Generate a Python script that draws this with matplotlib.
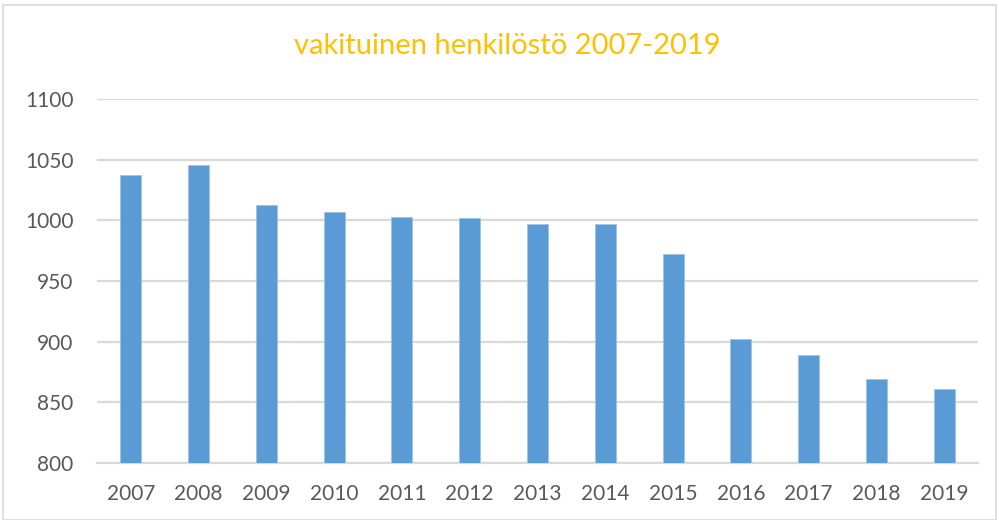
import matplotlib
matplotlib.use("Agg")
import matplotlib.pyplot as plt
from matplotlib.patches import Rectangle

years = ['2007', '2008', '2009', '2010', '2011', '2012', '2013',
         '2014', '2015', '2016', '2017', '2018', '2019']
staff = [1037, 1046, 1013, 1007, 1003, 1002, 997, 997, 972, 902, 889, 869, 861]
yticks = [800, 850, 900, 950, 1000, 1050, 1100]

plt.rcParams['font.family'] = ['Lato', 'DejaVu Sans']

fig = plt.figure(figsize=(9.99, 5.2), dpi=100)
ax = fig.add_axes([0.097, 0.1096, 0.882, 0.7])

# outer chart border
fig.patches.append(Rectangle((0.003, 0.0), 0.994, 0.99, transform=fig.transFigure,
                             fill=False, edgecolor='#D9D9D9', linewidth=1.2))

x = range(len(years))
ax.bar(x, staff, width=0.31, color='#5B9BD5', edgecolor='#9DC3E6', linewidth=0.6, zorder=3)

ax.set_ylim(800, 1100)
ax.set_xlim(-0.5, len(years) - 0.5)
ax.set_yticks(yticks)
ax.set_xticks(list(x))
ax.set_xticklabels(years)
ax.grid(axis='y', color='#D9D9D9', linewidth=1.6, zorder=0)
for s in ['top', 'right', 'left']:
    ax.spines[s].set_visible(False)
ax.spines['bottom'].set_color('#D9D9D9')
ax.spines['bottom'].set_linewidth(1.6)
ax.tick_params(length=0, labelsize=15, labelcolor='#595959')
ax.tick_params(axis='y', pad=17)
ax.tick_params(axis='x', pad=15)

fig.text(0.508, 0.912, 'vakituinen henkilöstö 2007-2019', ha='center', va='center',
         fontsize=21, color='#FFC000')

fig.savefig('out.png', dpi=100)
